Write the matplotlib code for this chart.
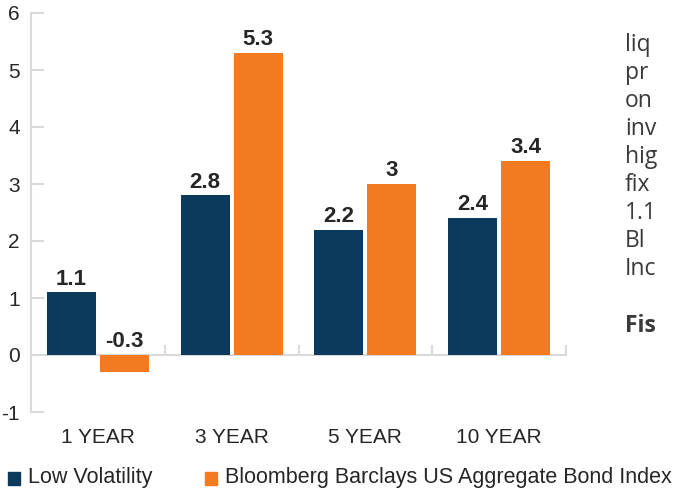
import matplotlib
matplotlib.use("Agg")
import matplotlib.pyplot as plt
import matplotlib.transforms as mtransforms
from matplotlib.patches import Rectangle
import numpy as np

categories = ["1 YEAR", "3 YEAR", "5 YEAR", "10 YEAR"]
low_vol = [1.1, 2.8, 2.2, 2.4]
agg_bond = [-0.3, 5.3, 3.0, 3.4]
labels_low = ["1.1", "2.8", "2.2", "2.4"]
labels_agg = ["-0.3", "5.3", "3", "3.4"]
series_names = ["Low Volatility", "Bloomberg Barclays US Aggregate Bond Index"]
side_text = ["liq", "pr", "on", "inv", "hig", "fix", "1.1", "Bl", "Inc"]

navy = "#0b3a5c"
orange = "#f47a22"
grey = "#d9d9d9"
txt = "#262626"

plt.rcParams["font.family"] = ["Liberation Sans", "DejaVu Sans"]
plt.rcParams["axes.unicode_minus"] = False

fig = plt.figure(figsize=(6.81, 4.93), dpi=100)
ax = fig.add_axes([31 / 681, 81 / 493, 535 / 681, 399 / 493])

x = np.arange(len(categories))
w = 0.366
off = 0.198
ax.bar(x - off, low_vol, w, color=navy, zorder=3)
ax.bar(x + off, agg_bond, w, color=orange, zorder=3)

for xi, v, s in zip(x, low_vol, labels_low):
    ax.annotate(s, (xi - off, max(v, 0)), xytext=(0, 2), textcoords="offset points",
                ha="center", va="bottom", fontsize=16, fontweight="bold", color=txt)
for xi, v, s in zip(x, agg_bond, labels_agg):
    ax.annotate(s, (xi + off, max(v, 0)), xytext=(0, 2), textcoords="offset points",
                ha="center", va="bottom", fontsize=16, fontweight="bold", color=txt)

ax.set_xlim(-0.5, 3.5)
ax.set_ylim(-1, 6)
ax.set_yticks(range(-1, 7))
ax.set_xticks([0.5, 1.5, 2.5, 3.5])
ax.set_xticklabels([])

for side in ["top", "right"]:
    ax.spines[side].set_visible(False)
ax.spines["bottom"].set_position(("data", 0))
for side in ["left", "bottom"]:
    ax.spines[side].set_color(grey)
    ax.spines[side].set_linewidth(1.5)
ax.tick_params(axis="y", direction="in", length=9, width=1.5, color=grey,
               labelsize=15, labelcolor=txt, pad=8)
ax.tick_params(axis="x", direction="in", length=7, width=1.5, color=grey)

trans = mtransforms.blended_transform_factory(ax.transData, ax.transAxes)
for xi, c in zip(x, categories):
    ax.text(xi, -0.063, c, transform=trans, ha="center", va="center",
            fontsize=15, color=txt)

# legend
for px, name, col in [(8, series_names[0], navy), (205, series_names[1], orange)]:
    fig.patches.append(Rectangle((px / 681, 1 - 485 / 493), 12 / 681, 13 / 493,
                                 transform=fig.transFigure, color=col))
    fig.text((px + 20) / 681, 1 - 478 / 493, name, ha="left", va="center",
             fontsize=15.5, color=txt)

# clipped neighbouring text column
for i, s in enumerate(side_text):
    fig.text(625 / 681, 1 - (45 + 28 * i) / 493, s, ha="left", va="center",
             fontsize=16.5, color="#3a3a3a", family="Open Sans")
fig.text(625 / 681, 1 - 326 / 493, "Fis", ha="left", va="center",
         fontsize=16.5, fontweight="bold", color="#3a3a3a", family="Open Sans")

fig.savefig("out.png", dpi=100)
